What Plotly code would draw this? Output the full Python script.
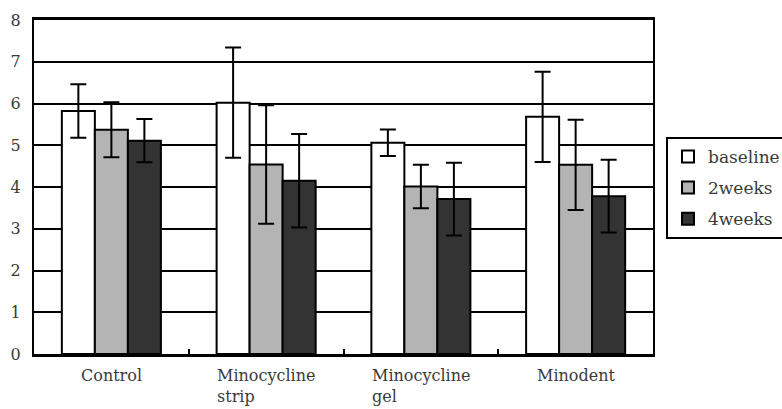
import plotly.graph_objects as go

# Treatment groups and time points
groups = ["Control", "Minocycline strip", "Minocycline gel", "Minodent"]
group_labels = ["Control", "Minocycline<br>strip", "Minocycline<br>gel", "Minodent"]
y_ticks = [0, 1, 2, 3, 4, 5, 6, 7, 8]

baseline_mean = [5.82, 6.02, 5.06, 5.68]
baseline_sd = [0.64, 1.32, 0.32, 1.08]
weeks2_mean = [5.37, 4.54, 4.01, 4.53]
weeks2_sd = [0.66, 1.42, 0.52, 1.08]
weeks4_mean = [5.11, 4.15, 3.71, 3.78]
weeks4_sd = [0.52, 1.12, 0.87, 0.87]

FONT = "DejaVu Serif"
TEXT_COLOR = "#3a3a3a"

series = [
    ("baseline", baseline_mean, baseline_sd, "#ffffff"),
    ("2weeks", weeks2_mean, weeks2_sd, "#b4b4b4"),
    ("4weeks", weeks4_mean, weeks4_sd, "#333333"),
]

fig = go.Figure()
for name, mean, sd, color in series:
    fig.add_trace(go.Bar(
        name=name,
        x=groups,
        y=mean,
        legendgroup=name,
        marker=dict(color=color, line=dict(color="black", width=2)),
        error_y=dict(type="data", array=sd, visible=True,
                     color="black", thickness=2, width=8),
    ))

# Category labels under the axis (second line left-aligned)
for g, lab in zip(groups, group_labels):
    fig.add_annotation(
        x=g, xref="x", y=-0.03, yref="paper",
        text=lab, showarrow=False, align="left",
        xanchor="center", yanchor="top",
        font=dict(family=FONT, size=16, color=TEXT_COLOR),
    )

fig.update_layout(
    width=782, height=409,
    margin=dict(l=34, r=129, t=20, b=55, autoexpand=False),
    paper_bgcolor="white",
    plot_bgcolor="white",
    barmode="group",
    bargap=0.36,
    bargroupgap=0,
    showlegend=True,
    legend=dict(
        x=1.021, y=0.65, xanchor="left", yanchor="top",
        bordercolor="black", borderwidth=2, bgcolor="white",
        tracegroupgap=6,
        font=dict(family=FONT, size=17, color=TEXT_COLOR),
    ),
    xaxis=dict(
        showticklabels=False,
        showline=True, linecolor="black", linewidth=3, mirror=True,
        ticks="inside", ticklen=5, tickcolor="black", tickwidth=2,
        tickson="boundaries",
        showgrid=False,
    ),
    yaxis=dict(
        range=[0, 8], tickvals=y_ticks,
        showline=True, linecolor="black", linewidth=2, mirror=True,
        showgrid=True, gridcolor="black", gridwidth=2,
        zeroline=False,
        ticklabelstandoff=8,
        tickfont=dict(family=FONT, size=16, color=TEXT_COLOR),
    ),
)

fig.write_html("out.html")
